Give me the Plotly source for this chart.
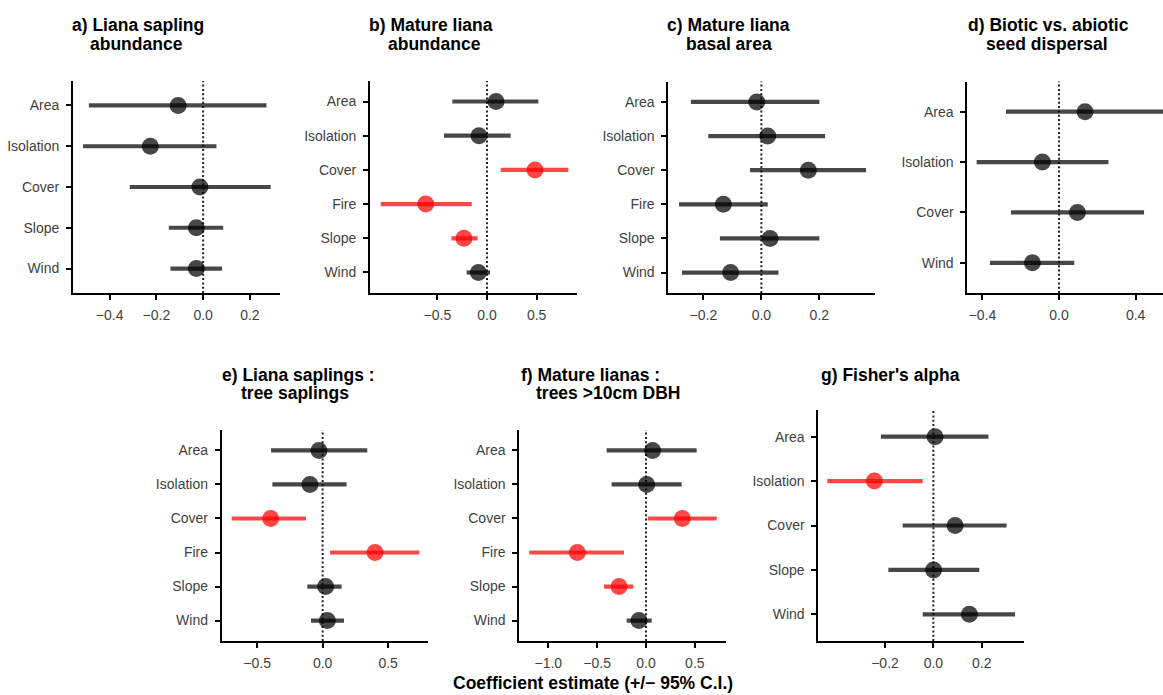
import plotly.graph_objects as go

# ---- coefficient estimates with 95% confidence limits, one block per response ----
vars_a = ["Area", "Isolation", "Cover", "Slope", "Wind"]
est_a = [-0.107, -0.226, -0.014, -0.029, -0.029]
lo_a = [-0.489, -0.514, -0.314, -0.147, -0.140]
hi_a = [0.271, 0.057, 0.289, 0.086, 0.081]
sig_a = [False, False, False, False, False]

vars_b = ["Area", "Isolation", "Cover", "Fire", "Slope", "Wind"]
est_b = [0.091, -0.081, 0.483, -0.617, -0.232, -0.087]
lo_b = [-0.349, -0.433, 0.138, -1.070, -0.359, -0.205]
hi_b = [0.517, 0.238, 0.819, -0.154, -0.094, 0.030]
sig_b = [False, False, True, True, True, False]

vars_c = ["Area", "Isolation", "Cover", "Fire", "Slope", "Wind"]
est_c = [-0.016, 0.022, 0.162, -0.131, 0.030, -0.106]
lo_c = [-0.243, -0.183, -0.039, -0.284, -0.143, -0.274]
hi_c = [0.200, 0.220, 0.361, 0.022, 0.200, 0.059]
sig_c = [False, False, False, False, False, False]

vars_d = ["Area", "Isolation", "Cover", "Wind"]
est_d = [0.136, -0.087, 0.096, -0.139]
lo_d = [-0.277, -0.430, -0.251, -0.361]
hi_d = [0.600, 0.258, 0.444, 0.080]
sig_d = [False, False, False, False]

vars_e = ["Area", "Isolation", "Cover", "Fire", "Slope", "Wind"]
est_e = [-0.028, -0.097, -0.397, 0.400, 0.023, 0.036]
lo_e = [-0.394, -0.384, -0.695, 0.056, -0.117, -0.089]
hi_e = [0.341, 0.183, -0.127, 0.738, 0.145, 0.163]
sig_e = [False, False, True, True, False, False]

vars_f = ["Area", "Isolation", "Cover", "Fire", "Slope", "Wind"]
est_f = [0.068, 0.007, 0.372, -0.703, -0.276, -0.072]
lo_f = [-0.403, -0.352, 0.017, -1.195, -0.430, -0.198]
hi_f = [0.519, 0.365, 0.724, -0.225, -0.130, 0.058]
sig_f = [False, False, True, True, True, False]

vars_g = ["Area", "Isolation", "Cover", "Slope", "Wind"]
est_g = [0.007, -0.244, 0.090, 0.001, 0.149]
lo_g = [-0.217, -0.439, -0.127, -0.186, -0.044]
hi_g = [0.228, -0.044, 0.303, 0.190, 0.338]
sig_g = [False, True, False, False, False]

title_a = ["a) Liana sapling", "abundance"]
title_b = ["b) Mature liana", "abundance"]
title_c = ["c) Mature liana", "basal area"]
title_d = ["d) Biotic vs. abiotic", "seed dispersal"]
title_e = ["e) Liana saplings :", "tree saplings"]
title_f = ["f) Mature lianas :", "trees >10cm DBH"]
title_g = ["g) Fisher's alpha"]

ticks_a = [-0.4, -0.2, 0.0, 0.2]
ticks_b = [-0.5, 0.0, 0.5]
ticks_c = [-0.2, 0.0, 0.2]
ticks_d = [-0.4, 0.0, 0.4]
ticks_e = [-0.5, 0.0, 0.5]
ticks_f = [-1.0, -0.5, 0.0, 0.5]
ticks_g = [-0.2, 0.0, 0.2]

x_title = "Coefficient estimate (+/\u2212 95% C.I.)"

# ---- layout of the panels (pixels on a 1163 x 695 canvas) ----
W, H = 1163, 695
panels = [
    # data, x-pixel span, y-pixel span, x range, title line centres
    dict(v=vars_a, e=est_a, lo=lo_a, hi=hi_a, s=sig_a, t=title_a, tk=ticks_a,
         px=(73, 280), py=(81, 293), xr=(-0.557, 0.329), tx=[138, 136], ty=[25, 44]),
    dict(v=vars_b, e=est_b, lo=lo_b, hi=hi_b, s=sig_b, t=title_b, tk=ticks_b,
         px=(370, 577.3), py=(81, 293), xr=(-1.178, 0.909), tx=[431, 434], ty=[25, 44]),
    dict(v=vars_c, e=est_c, lo=lo_c, hi=hi_c, s=sig_c, t=title_c, tk=ticks_c,
         px=(668.3, 875), py=(81.5, 293), xr=(-0.321, 0.392), tx=[728.5, 729], ty=[25, 44]),
    dict(v=vars_d, e=est_d, lo=lo_d, hi=hi_d, s=sig_d, t=title_d, tk=ticks_d,
         px=(967.3, 1163), py=(81.5, 293), xr=(-0.479, 0.543), tx=[1048, 1047], ty=[25, 44]),
    dict(v=vars_e, e=est_e, lo=lo_e, hi=hi_e, s=sig_e, t=title_e, tk=ticks_e,
         px=(221.7, 428.3), py=(430, 641), xr=(-0.771, 0.807), tx=[298, 294.5], ty=[375, 393]),
    dict(v=vars_f, e=est_f, lo=lo_f, hi=hi_f, s=sig_f, t=title_f, tk=ticks_f,
         px=(519.3, 726), py=(430, 641), xr=(-1.297, 0.819), tx=[591, 608], ty=[375, 393]),
    dict(v=vars_g, e=est_g, lo=lo_g, hi=hi_g, s=sig_g, t=title_g, tk=ticks_g,
         px=(818.3, 1024), py=(410, 641), xr=(-0.476, 0.375), tx=[890], ty=[375]),
]

GREY = "rgba(0,0,0,0.72)"
RED = "rgba(255,0,0,0.72)"
TXT = "#3F3F3F"
FONT = "Liberation Sans, Arial, Helvetica, sans-serif"

fig = go.Figure()
annotations = []

for i, p in enumerate(panels, start=1):
    xa = "x" if i == 1 else f"x{i}"
    ya = "y" if i == 1 else f"y{i}"
    n = len(p["v"])
    colors = [RED if s else GREY for s in p["s"]]

    # confidence intervals drawn as thick horizontal segments
    for cat, lo, hi, col in zip(p["v"], p["lo"], p["hi"], colors):
        fig.add_trace(go.Scatter(
            x=[lo, hi], y=[cat, cat], mode="lines",
            line=dict(color=col, width=4.2), xaxis=xa, yaxis=ya,
            showlegend=False, hoverinfo="skip"))
    # point estimates
    fig.add_trace(go.Scatter(
        x=p["e"], y=p["v"], mode="markers",
        marker=dict(size=17, color=colors, line=dict(width=0)),
        xaxis=xa, yaxis=ya, showlegend=False))

    xd = [p["px"][0] / W, p["px"][1] / W]
    yd = [1 - p["py"][1] / H, 1 - p["py"][0] / H]
    axis_common = dict(showline=True, linecolor="black", linewidth=1.8,
                       ticks="outside", ticklen=5, tickwidth=1.6, tickcolor="black",
                       showgrid=False, zeroline=False,
                       tickfont=dict(family=FONT, size=14, color=TXT))
    fig.layout[f"xaxis{'' if i == 1 else i}"] = dict(
        domain=xd, anchor=ya, range=list(p["xr"]), tickvals=p["tk"],
        tickformat=".1f", ticklabelstandoff=3, **axis_common)
    fig.layout[f"yaxis{'' if i == 1 else i}"] = dict(
        domain=yd, anchor=xa, type="category", categoryorder="array",
        categoryarray=p["v"], range=[n - 0.4, -0.6], ticklabelstandoff=4,
        **axis_common)

    # dotted reference line at zero
    fig.add_shape(type="line", xref=xa, yref=f"{ya} domain", x0=0, x1=0, y0=0, y1=1,
                  line=dict(color="#222222", width=2, dash="2px,2.3px"), layer="below")

    for line, cx, cy in zip(p["t"], p["tx"], p["ty"]):
        annotations.append(dict(
            text=f"<b>{line}</b>", x=cx / W, y=1 - cy / H, xref="paper", yref="paper",
            xanchor="center", yanchor="middle", showarrow=False,
            font=dict(family=FONT, size=17.5, color="black")))

annotations.append(dict(
    text=f"<b>{x_title}</b>", x=593 / W, y=1 - 683 / H, xref="paper", yref="paper",
    xanchor="center", yanchor="middle", showarrow=False,
    font=dict(family=FONT, size=17.5, color="black")))

fig.update_layout(
    width=W, height=H, margin=dict(l=0, r=0, t=0, b=0),
    paper_bgcolor="white", plot_bgcolor="white",
    annotations=annotations, font=dict(family=FONT),
)

fig.write_html("out.html")
